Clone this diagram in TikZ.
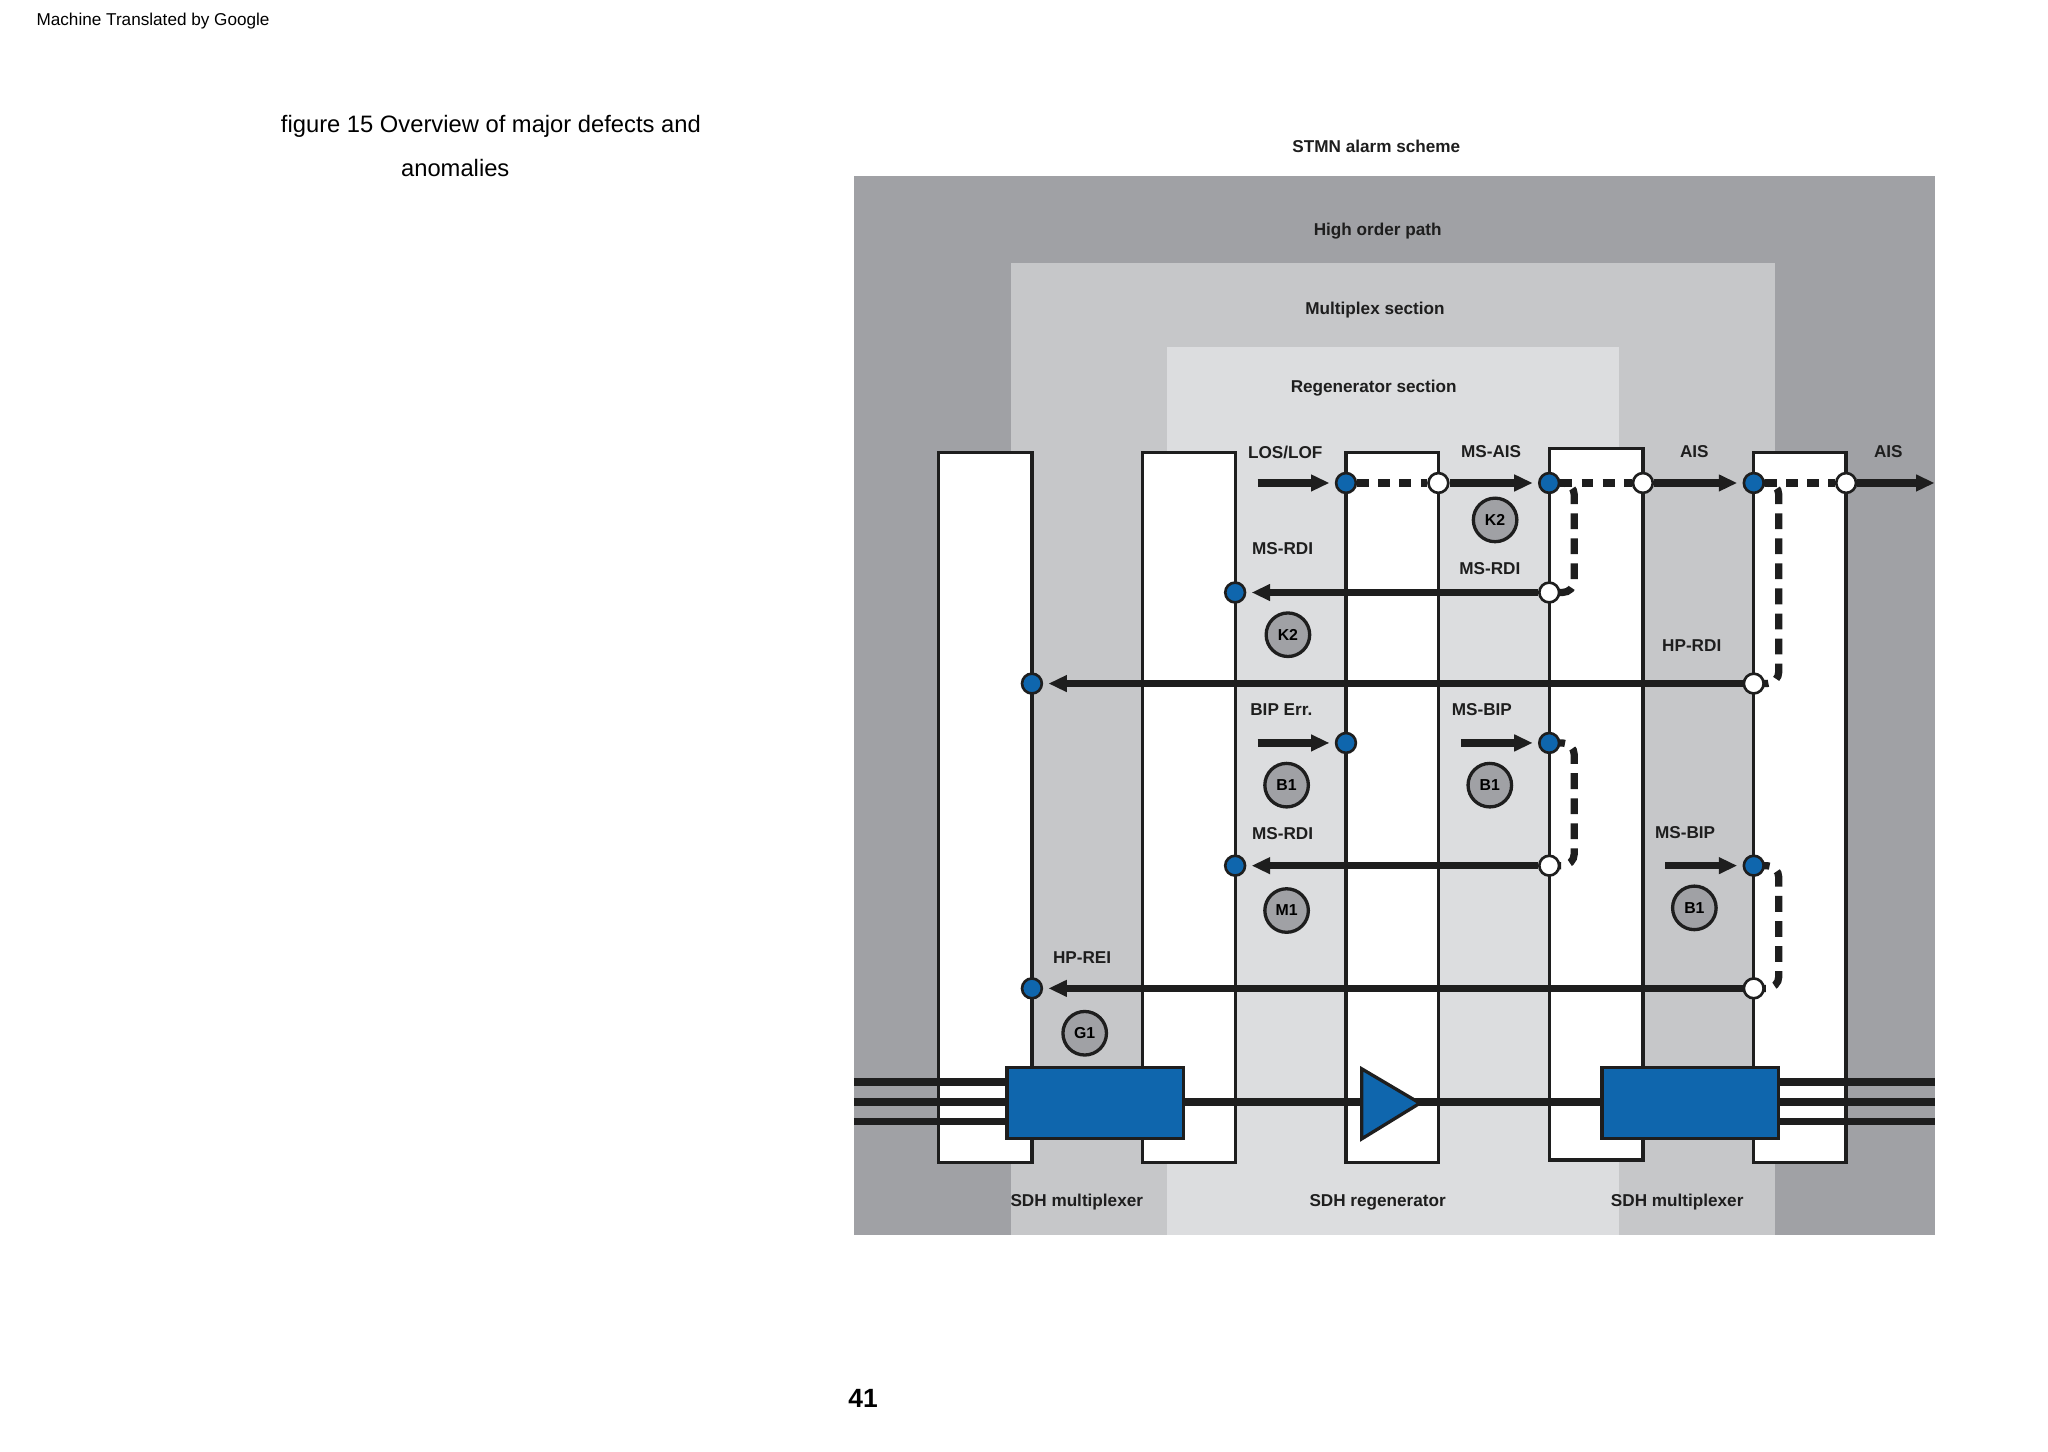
\documentclass[tikz,border=0pt]{standalone}
\usepackage{fontspec}
\setmainfont{Liberation Sans}
\usetikzlibrary{arrows.meta}
\definecolor{outerg}{HTML}{A0A1A5}
\definecolor{midg}{HTML}{C6C7C9}
\definecolor{inng}{HTML}{DCDDDF}
\definecolor{sblue}{HTML}{0F66AD}
\definecolor{ink}{HTML}{1E1E1E}
\begin{document}
\begin{tikzpicture}[x=1pt,y=-1pt,
 col/.style={draw=ink,line width=2.5,fill=white},
 dotb/.style={circle,draw=ink,line width=2,fill=sblue,minimum size=15,inner sep=0},
 dotw/.style={circle,draw=ink,line width=2,fill=white,minimum size=15,inner sep=0},
 sig/.style={draw=ink,line width=5.5,-{Triangle[length=14,width=12,sep=4]}},
 dsh/.style={draw=ink,line width=5.5,dash pattern=on 9 off 7},
 dshv/.style={draw=ink,line width=5.5,dash pattern=on 12 off 7,rounded corners=9},
 lab/.style={font=\bfseries\fontsize{13}{15}\selectfont,text=ink},
 badge/.style={circle,draw=ink,line width=2.5,fill=outerg,minimum size=33,inner sep=0,font=\bfseries\fontsize{12}{14}\selectfont},
 blk/.style={draw=ink,line width=2.5,fill=sblue}]
\useasboundingbox (0,0) rectangle (1552,1100);
\node[font=\fontsize{13}{15}\selectfont] (mt) at (116,16) {Machine Translated by Google};
\node[font=\fontsize{18}{20}\selectfont] (cap1) at (372,96) {figure 15 Overview of major defects and};
\node[font=\fontsize{18}{20}\selectfont] (cap2) at (345,127) {anomalies};
\node[font=\bfseries\fontsize{20}{22}\selectfont] (pg) at (654,1060) {41};
\node[lab] (title) at (1043,111) {STMN alarm scheme};
% bands
\fill[outerg] (647,133) rectangle (1466,936);
\fill[midg] (766,199) rectangle (1345,936);
\fill[inng] (884,263) rectangle (1227,936);
\node[lab] (hop) at (1044,175) {High order path};
\node[lab] (mux) at (1042,235) {Multiplex section};
\node[lab] (reg) at (1041,294) {Regenerator section};
% columns
\draw[col] (711,343) rectangle (782,881);
\draw[col] (866,343) rectangle (936,881);
\draw[col] (1020,343) rectangle (1090,881);
\draw[col] (1174,340) rectangle (1245,879);
\draw[col] (1329,343) rectangle (1399,881);
% bottom lines
\foreach \yy in {820,835,850}{
 \draw[ink,line width=5.5] (647,\yy) -- (763,\yy);
 \draw[ink,line width=5.5] (1348,\yy) -- (1466,\yy);}
\draw[ink,line width=5.5] (897,835) -- (1214,835);
\draw[blk] (763,809) rectangle (897,863);
\draw[blk] (1214,809) rectangle (1348,863);
\draw[blk] (1032,810) -- (1076,836) -- (1032,863) -- cycle;
% labels
\node[lab] at (974,343) {LOS/LOF};
\node[lab] at (1130,342) {MS-AIS};
\node[lab] at (1284,342) {AIS};
\node[lab] at (1431,342) {AIS};
\node[lab] at (972,416) {MS-RDI};
\node[lab] at (1129,431) {MS-RDI};
\node[lab] at (1282,489) {HP-RDI};
\node[lab] at (971,538) {BIP Err.};
\node[lab] at (1123,538) {MS-BIP};
\node[lab] at (972,632) {MS-RDI};
\node[lab] at (1277,631) {MS-BIP};
\node[lab] at (820,726) {HP-REI};
\node[lab] at (816,911) {SDH multiplexer};
\node[lab] at (1044,911) {SDH regenerator};
\node[lab] at (1271,911) {SDH multiplexer};
% coordinates
\coordinate (s1) at (953,366);
\coordinate (s2) at (1466,366);
\coordinate (s3) at (953,563);
\coordinate (s4) at (1107,563);
\coordinate (s5) at (1262,656);
% dashed verticals
\draw[dshv] (1174,366) -| (1193,449) -- (1174,449);
\draw[dshv] (1329,366) -| (1348,518) -- (1329,518);
\draw[dshv] (1174,563) -| (1193,656) -- (1174,656);
\draw[dshv] (1329,656) -| (1348,749) -- (1329,749);
% dots
\node[dotb] (a1) at (1020,366) {};
\node[dotw] (a2) at (1090,366) {};
\node[dotb] (a3) at (1174,366) {};
\node[dotw] (a4) at (1245,366) {};
\node[dotb] (a5) at (1329,366) {};
\node[dotw] (a6) at (1399,366) {};
\node[dotb] (r1) at (936,449) {};
\node[dotw] (r2) at (1174,449) {};
\node[dotb] (h1) at (782,518) {};
\node[dotw] (h2) at (1329,518) {};
\node[dotb] (e1) at (1020,563) {};
\node[dotb] (e2) at (1174,563) {};
\node[dotb] (m1) at (936,656) {};
\node[dotw] (m2) at (1174,656) {};
\node[dotb] (m3) at (1329,656) {};
\node[dotb] (g1) at (782,749) {};
\node[dotw] (g2) at (1329,749) {};
% signals
\draw[sig] (s1) -- (a1);
\draw[dsh] (a1) -- (a2);
\draw[sig] (a2) -- (a3);
\draw[dsh] (a3) -- (a4);
\draw[sig] (a4) -- (a5);
\draw[dsh] (a5) -- (a6);
\draw[sig,-{Triangle[length=14,width=12]}] (a6) -- (s2);
\draw[sig] (r2) -- (r1);
\draw[sig] (h2) -- (h1);
\draw[sig] (s3) -- (e1);
\draw[sig] (s4) -- (e2);
\draw[sig] (m2) -- (m1);
\draw[sig] (s5) -- (m3);
\draw[sig] (g2) -- (g1);
% badges
\node[badge] (k2a) at (1133,394) {K2};
\node[badge] (k2b) at (976,481) {K2};
\node[badge] (b1a) at (975,595) {B1};
\node[badge] (b1b) at (1129,595) {B1};
\node[badge] (m1b) at (975,690) {M1};
\node[badge] (b1c) at (1284,688) {B1};
\node[badge] (g1b) at (822,783) {G1};
\end{tikzpicture}
\end{document}
